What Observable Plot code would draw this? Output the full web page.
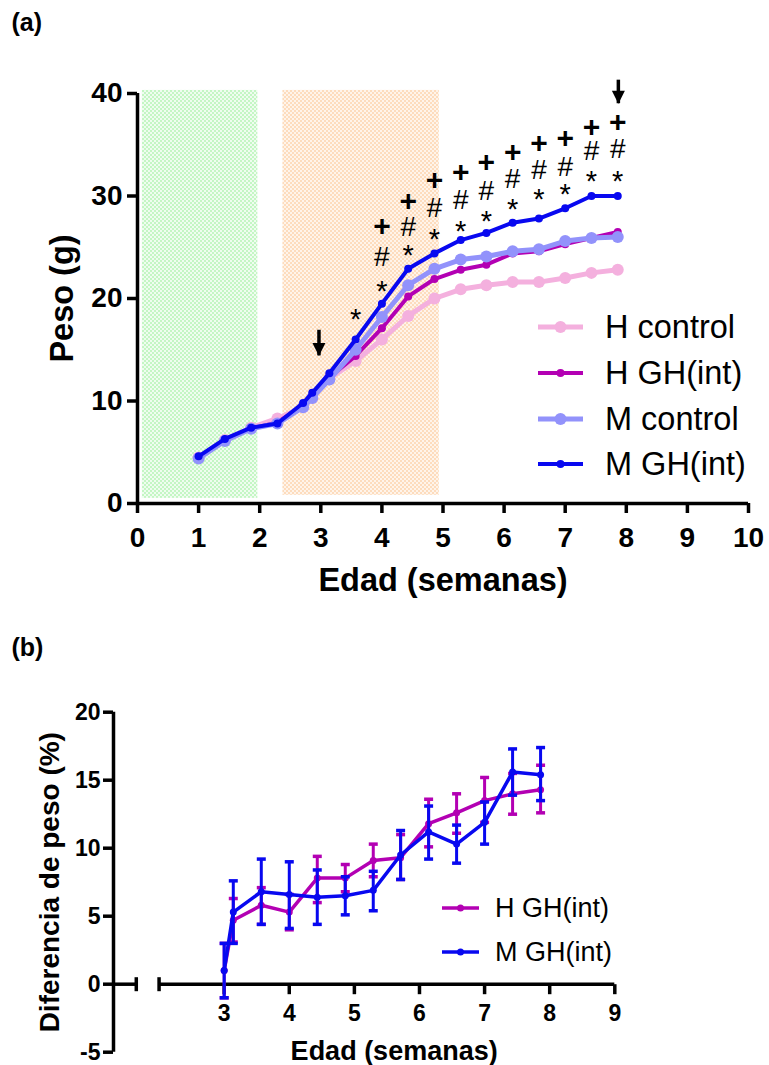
<!DOCTYPE html>
<html><head><meta charset="utf-8">
<script src="https://cdn.jsdelivr.net/npm/d3@7"></script>
<script src="https://cdn.jsdelivr.net/npm/@observablehq/plot@0.6"></script>
<style>
body{margin:0;background:#fff;}
#wrap{position:relative;width:769px;height:1065px;overflow:hidden;font-family:"Liberation Sans",Arial,sans-serif;background:#fff;}
.plot{position:absolute;left:0;}
.leg{position:absolute;display:flex;align-items:center;white-space:nowrap;color:#000;height:40px;}
.leg svg{display:block;}
</style></head><body><div id="wrap"></div>
<script>
// ---------- Panel (a) data ----------
const weeks = [1.00,1.43,1.86,2.29,2.71,2.86,3.14,3.57,4.00,4.43,4.86,5.29,5.71,6.14,6.57,7.00,7.43,7.86];
const hControl = [4.5,6.2,7.4,8.3,9.4,10.3,12.2,13.9,16.0,18.3,20.0,20.9,21.3,21.6,21.6,22.0,22.5,22.8];
const hGH      = [4.5,6.2,7.3,7.9,9.6,10.5,12.3,14.4,17.1,20.2,21.9,22.8,23.3,24.4,24.6,25.3,25.9,26.5];
const mControl = [4.4,6.1,7.3,7.8,9.4,10.3,12.1,15.0,18.2,21.3,22.9,23.8,24.1,24.6,24.8,25.6,25.9,26.0];
const mGH      = [4.6,6.3,7.4,7.8,9.8,10.8,12.7,16.0,19.5,22.9,24.4,25.7,26.4,27.4,27.8,28.8,30.0,30.0];
const seriesNames = ["H control","H GH(int)","M control","M GH(int)"];
const xTicksA = [0,1,2,3,4,5,6,7,8,9,10];
const yTicksA = [0,10,20,30,40];
// shaded periods (weeks, grams)
const bandX1 = [0.08, 2.38];
const bandX2 = [1.97, 4.94];
const bandY1 = [0.5, 0.8];
const bandY2 = [40.3, 40.3];
// significance marks
const annX  = [3.57,4.00,4.43,4.86,5.29,5.71,6.14,6.57,7.00,7.43,7.86];
const starY = [18.7,21.4,25.0,26.5,27.3,28.3,29.4,30.4,30.9,32.2,32.2];
const hashY = [null,24.0,27.0,28.8,29.6,30.5,31.7,32.5,32.8,34.4,34.6];
const plusY = [null,27.0,29.5,31.5,32.3,33.3,34.3,35.1,35.6,36.7,37.2];
// arrows
const arrowX   = [2.97, 7.87];
const arrowTop = [16.9, 41.3];
const arrowTip = [14.4, 39.0];

// ---------- Panel (b) data ----------
const weeksB = [3.00,3.14,3.57,4.00,4.43,4.86,5.29,5.71,6.14,6.57,7.00,7.43,7.86];
const hGHdiff = [1.0,4.7,5.8,5.3,7.8,7.8,9.1,9.3,11.8,12.6,13.5,14.0,14.3];
const hGHlo   = [-1.0,3.1,4.4,4.0,6.0,6.8,7.9,7.7,10.1,11.1,11.9,12.5,12.6];
const hGHhi   = [3.0,6.3,7.1,6.6,9.4,8.8,10.3,11.0,13.6,14.0,15.2,15.5,16.1];
const mGHdiff = [1.0,5.3,6.8,6.6,6.4,6.5,6.9,9.5,11.2,10.3,11.9,15.6,15.4];
const mGHlo   = [-1.0,3.0,4.4,4.1,4.4,5.1,5.4,7.7,9.2,8.9,10.3,13.9,13.5];
const mGHhi   = [3.0,7.6,9.2,9.0,8.4,7.9,8.3,11.3,13.1,11.7,13.4,17.3,17.4];
const xTicksB = [3,4,5,6,7,8,9];
const yTicksB = [-5,0,5,10,15,20];
const axisSegX1 = [1.3, 2.0];
const axisSegX2 = [1.65, 9.0];
const seriesNamesB = ["H GH(int)","M GH(int)"];

// ---------- styles ----------
const FONT = "Liberation Sans, Arial, sans-serif";
const styleOf = {
  "H control": {color:"#f4b0de", r:6, lw:5},
  "H GH(int)": {color:"#b300b3", r:4, lw:4},
  "M control": {color:"#9292fb", r:6, lw:5},
  "M GH(int)": {color:"#0808f0", r:4, lw:4}
};
const capSym = {draw(ctx){ctx.moveTo(-4.5,0);ctx.lineTo(4.5,0);}};
const tickDownSym = {draw(ctx){ctx.moveTo(0,0);ctx.lineTo(0,10);}};
const breakSym = {draw(ctx){ctx.moveTo(0,-7);ctx.lineTo(0,7);}};
const headSym = {draw(ctx){ctx.moveTo(-6.5,-13);ctx.lineTo(6.5,-13);ctx.lineTo(0,0);ctx.closePath();}};

const wrap = document.getElementById("wrap");

// ---------- Panel (a) ----------
const allSeries = [hControl, hGH, mControl, mGH];
const rowsA = [];
seriesNames.forEach((n, k) => allSeries[k].forEach((v, i) => rowsA.push({week: weeks[i], peso: v, name: n})));
const bands = bandX1.map((x1, i) => ({x1, x2: bandX2[i], y1: bandY1[i], y2: bandY2[i], fill: i === 0 ? "url(#pg)" : "url(#po)"}));
const starRows = annX.map((x, i) => ({x, y: starY[i]}));
const hashRows = annX.map((x, i) => ({x, y: hashY[i]})).filter(d => d.y != null);
const plusRows = annX.map((x, i) => ({x, y: plusY[i]})).filter(d => d.y != null);
const arrows = arrowX.map((x, i) => ({x, top: arrowTop[i], tip: arrowTip[i]}));

const marksA = [];
marksA.push(Plot.rect(bands, {x1: "x1", x2: "x2", y1: "y1", y2: "y2", fill: d => d.fill}));
for (const n of seriesNames) {
  const s = styleOf[n];
  const d = rowsA.filter(r => r.name === n);
  marksA.push(Plot.line(d, {x: "week", y: "peso", stroke: s.color, strokeWidth: s.lw}));
  marksA.push(Plot.dot(d, {x: "week", y: "peso", fill: s.color, r: s.r, stroke: "none"}));
}
marksA.push(
  Plot.ruleX([0], {y1: 0, y2: 40, stroke: "#000", strokeWidth: 3.5}),
  Plot.ruleY([0], {x1: 0, x2: 10, stroke: "#000", strokeWidth: 3.5}),
  Plot.axisX({ticks: xTicksA, tickFormat: d => d, tickSize: 10, tickPadding: 14, strokeWidth: 3.5, fontSize: 28, fontWeight: "bold", fill: "#000", label: null}),
  Plot.axisY({ticks: yTicksA, tickFormat: d => d, tickSize: 10, tickPadding: 5, strokeWidth: 3.5, fontSize: 28, fontWeight: "bold", fill: "#000", label: null}),
  Plot.text(plusRows, {x: "x", y: "y", text: d => "+", fontSize: 30, fontWeight: "bold", fill: "#000"}),
  Plot.text(hashRows, {x: "x", y: "y", text: d => "#", fontSize: 28, fill: "#000"}),
  Plot.text(starRows, {x: "x", y: "y", text: d => "*", fontSize: 29, dy: 8, fill: "#000"}),
  Plot.ruleX(arrows, {x: "x", y1: "top", y2: "tip", stroke: "#000", strokeWidth: 3.5}),
  Plot.dot(arrows, {x: "x", y: "tip", symbol: headSym, fill: "#000", stroke: "none"}),
  Plot.text(["Edad (semanas)"], {frameAnchor: "bottom", text: d => d, textAnchor: "middle", lineAnchor: "middle", dy: 77, fontSize: 32.5, fontWeight: "bold", fill: "#000"}),
  Plot.text(["Peso (g)"], {frameAnchor: "left", text: d => d, textAnchor: "middle", lineAnchor: "middle", rotate: -90, dx: -75, fontSize: 32.5, fontWeight: "bold", fill: "#000"}),
  Plot.text(["(a)"], {frameAnchor: "top-left", text: d => d, textAnchor: "start", lineAnchor: "middle", dx: -126, dy: -71, fontSize: 25, fontWeight: "bold", fill: "#000"})
);

const plotA = Plot.plot({
  width: 769, height: 600,
  marginLeft: 137, marginRight: 21, marginTop: 93, marginBottom: 97,
  x: {domain: [0, 10]},
  y: {domain: [0, 40]},
  style: {fontFamily: FONT, background: "transparent", overflow: "visible", color: "#000"},
  marks: marksA
});
const defs = document.createElementNS("http://www.w3.org/2000/svg", "defs");
defs.innerHTML =
  '<pattern id="pg" width="4" height="4" patternUnits="userSpaceOnUse">' +
  '<rect width="4" height="4" fill="#effdef"/><rect width="2" height="2" fill="#c4f6c4"/><rect x="2" y="2" width="2" height="2" fill="#c4f6c4"/></pattern>' +
  '<pattern id="po" width="4" height="4" patternUnits="userSpaceOnUse">' +
  '<rect width="4" height="4" fill="#fff4ea"/><rect width="2" height="2" fill="#fddcbd"/><rect x="2" y="2" width="2" height="2" fill="#fddcbd"/></pattern>';
plotA.insertBefore(defs, plotA.firstChild);
plotA.classList.add("plot");
plotA.style.top = "0px";
wrap.appendChild(plotA);

// ---------- Panel (b) ----------
const dataB = {
  "H GH(int)": weeksB.map((x, i) => ({x, y: hGHdiff[i], lo: hGHlo[i], hi: hGHhi[i]})),
  "M GH(int)": weeksB.map((x, i) => ({x, y: mGHdiff[i], lo: mGHlo[i], hi: mGHhi[i]}))
};
const segs = axisSegX1.map((x1, i) => ({x1, x2: axisSegX2[i]}));
const breaks = [axisSegX2[0], axisSegX1[1]];
const marksB = [
  Plot.ruleX([axisSegX1[0]], {y1: -5, y2: 20, stroke: "#000", strokeWidth: 3.5}),
  Plot.ruleY(segs, {x1: "x1", x2: "x2", y: 0, stroke: "#000", strokeWidth: 3.5}),
  Plot.dot(breaks, {x: d => d, y: 0, symbol: breakSym, fill: "none", stroke: "#000", strokeWidth: 3.5}),
  Plot.dot(xTicksB, {x: d => d, y: 0, symbol: tickDownSym, fill: "none", stroke: "#000", strokeWidth: 3.5}),
  Plot.text(xTicksB, {x: d => d, y: 0, text: d => d, lineAnchor: "middle", dy: 29, fontSize: 23, fontWeight: "bold", fill: "#000"}),
  Plot.axisY({ticks: yTicksB, tickFormat: d => d, tickSize: 10, tickPadding: 3, strokeWidth: 3.5, fontSize: 23, fontWeight: "bold", fill: "#000", label: null})
];
for (const n of seriesNamesB) {
  const s = styleOf[n];
  const d = dataB[n];
  marksB.push(
    Plot.ruleX(d, {x: "x", y1: "lo", y2: "hi", stroke: s.color, strokeWidth: 3}),
    Plot.dot(d, {x: "x", y: "lo", symbol: capSym, fill: "none", stroke: s.color, strokeWidth: 3.5}),
    Plot.dot(d, {x: "x", y: "hi", symbol: capSym, fill: "none", stroke: s.color, strokeWidth: 3.5}),
    Plot.line(d, {x: "x", y: "y", stroke: s.color, strokeWidth: 3.5}),
    Plot.dot(d, {x: "x", y: "y", fill: s.color, r: 3.5, stroke: "none"})
  );
}
marksB.push(
  Plot.text(["Edad (semanas)"], {frameAnchor: "bottom", text: d => d, textAnchor: "middle", lineAnchor: "middle", dx: 30, dy: -1, fontSize: 27, fontWeight: "bold", fill: "#000"}),
  Plot.text(["Diferencia de peso (%)"], {frameAnchor: "left", text: d => d, textAnchor: "middle", lineAnchor: "middle", rotate: -90, dx: -63, fontSize: 28, fontWeight: "bold", fill: "#000"}),
  Plot.text(["(b)"], {frameAnchor: "top-left", text: d => d, textAnchor: "start", lineAnchor: "middle", dx: -102, dy: -64, fontSize: 25, fontWeight: "bold", fill: "#000"})
);
const plotB = Plot.plot({
  width: 769, height: 465,
  marginLeft: 113, marginRight: 154.7, marginTop: 111.7, marginBottom: 13.3,
  x: {domain: [1.3, 9], axis: null},
  y: {domain: [-5, 20]},
  style: {fontFamily: FONT, background: "transparent", overflow: "visible", color: "#000"},
  marks: marksB
});
plotB.classList.add("plot");
plotB.style.top = "600px";
wrap.appendChild(plotB);

// ---------- legends (HTML overlay) ----------
function legendRow(name, cy, left, lineLen, textGap, fontSize, r, lw) {
  const s = styleOf[name];
  const row = document.createElement("div");
  row.className = "leg";
  row.style.left = left + "px";
  row.style.top = (cy - 20) + "px";
  row.innerHTML =
    `<svg width="${lineLen}" height="40"><line x1="0" y1="20" x2="${lineLen}" y2="20" stroke="${s.color}" stroke-width="${lw}"/>` +
    `<circle cx="${lineLen / 2}" cy="20" r="${r}" fill="${s.color}"/></svg>` +
    `<span style="margin-left:${textGap}px;font-size:${fontSize}px;font-family:${FONT}">${name}</span>`;
  wrap.appendChild(row);
}
const legA_y = [327, 373, 419, 464];
seriesNames.forEach((n, i) => legendRow(n, legA_y[i], 538, 45, 22, 32.5, styleOf[n].r, styleOf[n].lw));
const legB_y = [908, 952];
seriesNamesB.forEach((n, i) => legendRow(n, legB_y[i], 442, 37, 16, 27, 3.5, 3.5));
</script>
</body></html>
